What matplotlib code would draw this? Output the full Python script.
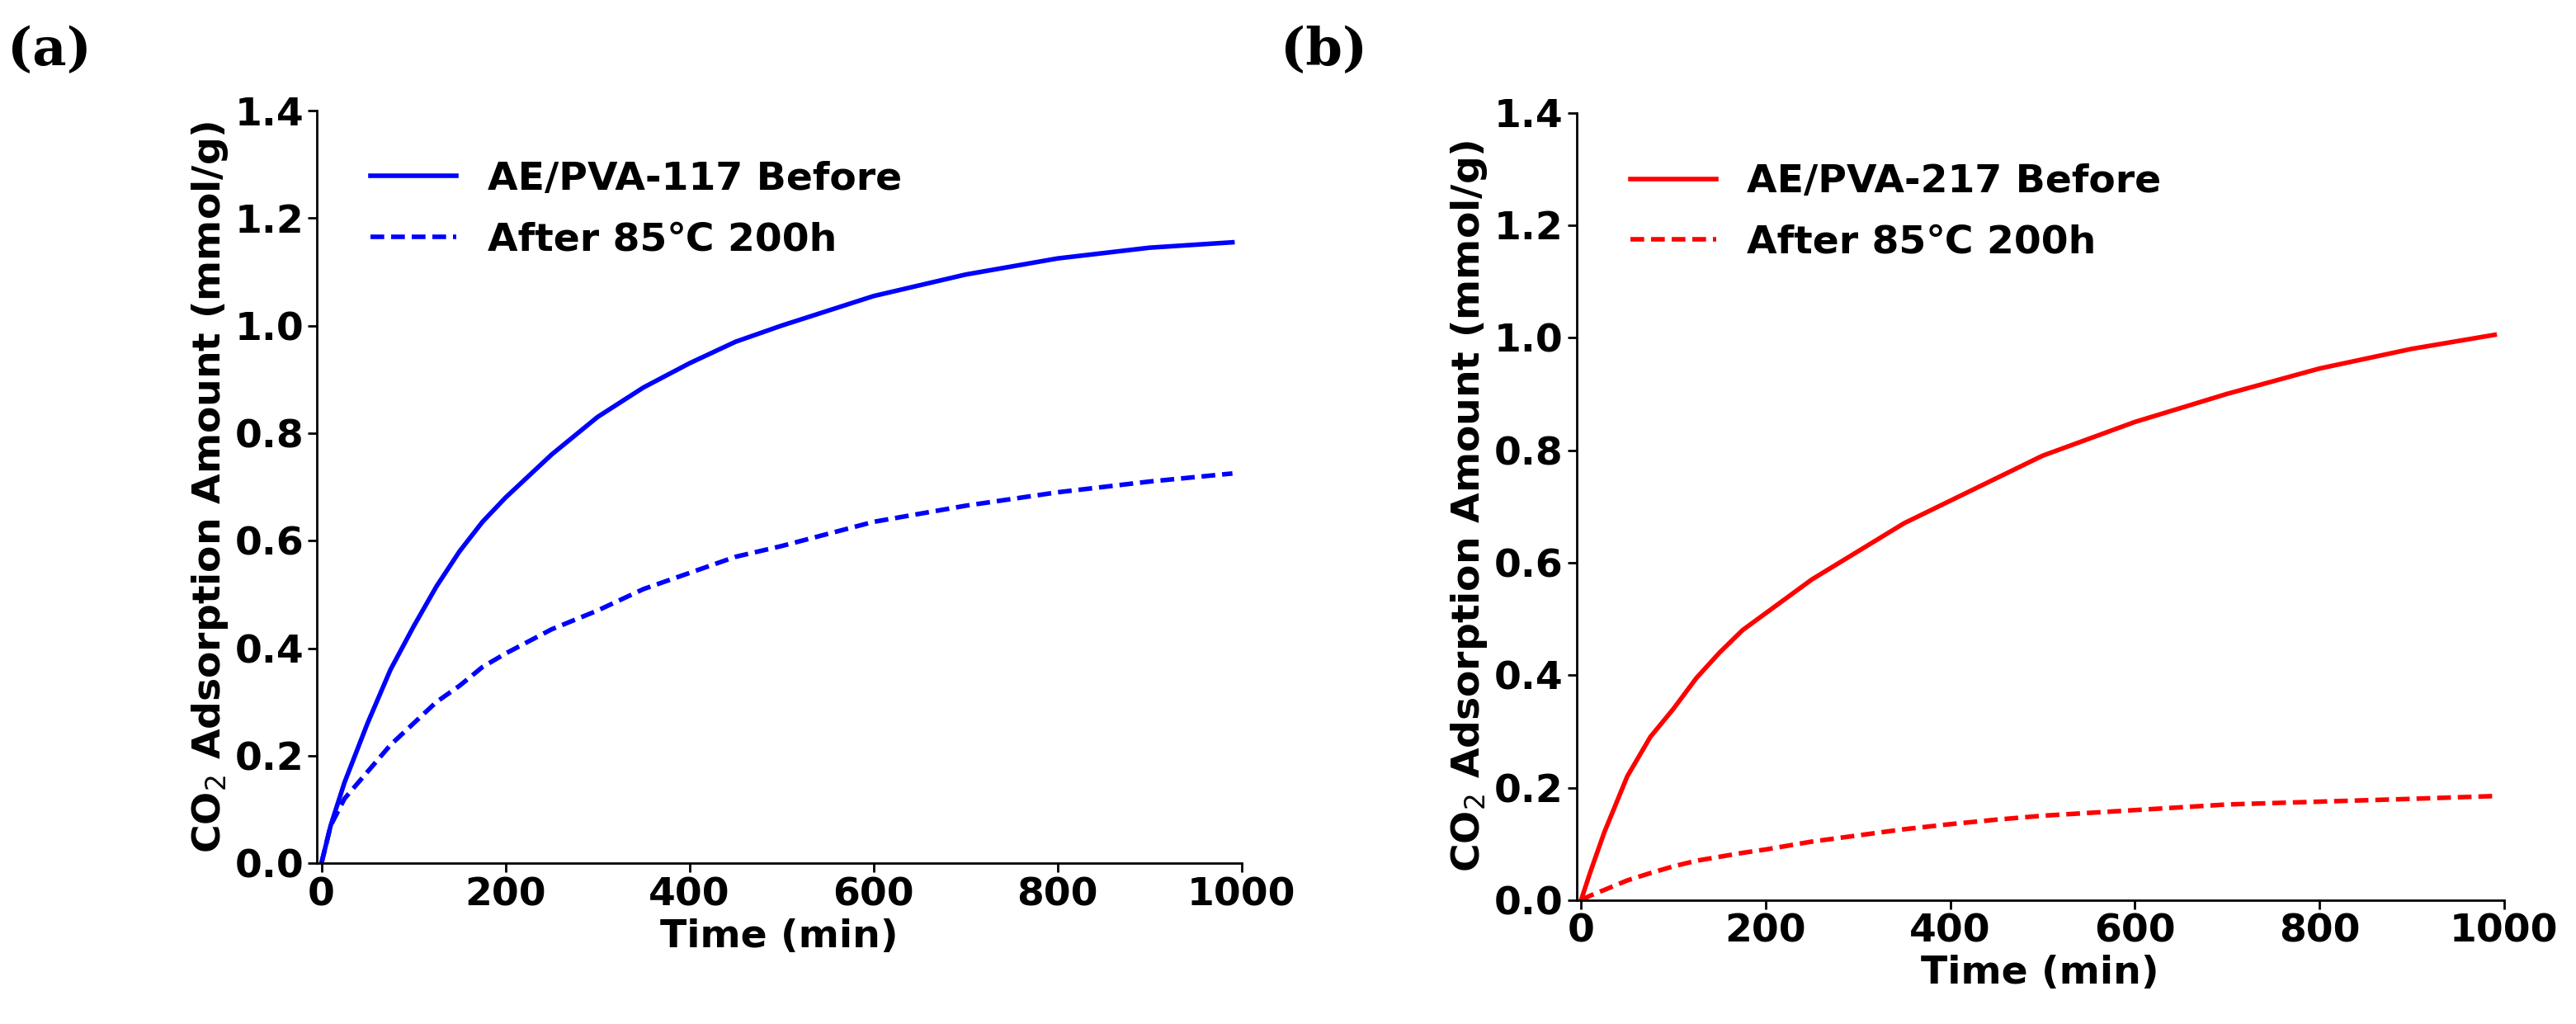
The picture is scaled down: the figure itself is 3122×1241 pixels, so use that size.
import matplotlib
matplotlib.use("Agg")
import matplotlib.pyplot as plt

t_a = [0, 10, 25, 50, 75, 100, 125, 150, 175, 200, 250, 300, 350, 400, 450, 500, 600, 700, 800, 900, 990]
a_before = [0, 0.07, 0.15, 0.26, 0.36, 0.44, 0.515, 0.58, 0.635, 0.68, 0.76, 0.83, 0.885, 0.93, 0.97, 1.00, 1.055, 1.095, 1.125, 1.145, 1.155]
a_after = [0, 0.07, 0.12, 0.17, 0.22, 0.26, 0.30, 0.33, 0.365, 0.39, 0.435, 0.47, 0.51, 0.54, 0.57, 0.59, 0.635, 0.665, 0.69, 0.71, 0.725]
t_b = t_a
b_before = [0, 0.05, 0.12, 0.22, 0.29, 0.34, 0.395, 0.44, 0.48, 0.51, 0.57, 0.62, 0.67, 0.71, 0.75, 0.79, 0.85, 0.90, 0.945, 0.98, 1.005]
b_after = [0, 0.008, 0.018, 0.035, 0.048, 0.06, 0.07, 0.077, 0.084, 0.09, 0.104, 0.115, 0.126, 0.135, 0.143, 0.15, 0.16, 0.17, 0.175, 0.18, 0.185]
xticks = [0, 200, 400, 600, 800, 1000]
yticks = [0.0, 0.2, 0.4, 0.6, 0.8, 1.0, 1.2, 1.4]

fig = plt.figure(figsize=(31.22, 12.41), dpi=100)
fs = 34
specs = [
    ([0.123, 0.157, 0.359, 0.735], t_a, a_before, a_after, "blue", "AE/PVA-117 Before", "(a)", 0.003),
    ([0.612, 0.121, 0.360, 0.769], t_b, b_before, b_after, "red", "AE/PVA-217 Before", "(b)", 0.497),
]
for rect, t, yb, ya, col, lab, panel, px in specs:
    ax = fig.add_axes(rect)
    ax.plot(t, yb, color=col, lw=4, label=lab)
    ax.plot(t, ya, color=col, lw=4, ls=(0, (3, 1.5)), label="After 85\u2103 200h")
    ax.set_xlim(-5, 1000)
    ax.set_ylim(0, 1.4)
    ax.set_xticks(xticks)
    ax.set_yticks(yticks)
    ax.set_yticklabels([f"{v:.1f}" for v in yticks])
    for s in ["top", "right"]:
        ax.spines[s].set_visible(False)
    for s in ["left", "bottom"]:
        ax.spines[s].set_linewidth(2)
    ax.tick_params(direction="out", length=8, width=2, labelsize=fs)
    for lb in ax.get_xticklabels() + ax.get_yticklabels():
        lb.set_fontweight("bold")
    ax.set_xlabel("Time (min)", fontsize=fs, fontweight="bold")
    ax.set_ylabel("CO$_2$ Adsorption Amount (mmol/g)", fontsize=fs, fontweight="bold")
    ax.legend(loc="upper left", frameon=False, prop={"size": fs, "weight": "bold"},
              handlelength=2.2, bbox_to_anchor=(0.02, 0.98), labelspacing=0.6)
    fig.text(px, 0.975, panel, fontsize=46, fontfamily="DejaVu Serif", fontweight="bold", va="top")

fig.savefig("out.png", dpi=100)
